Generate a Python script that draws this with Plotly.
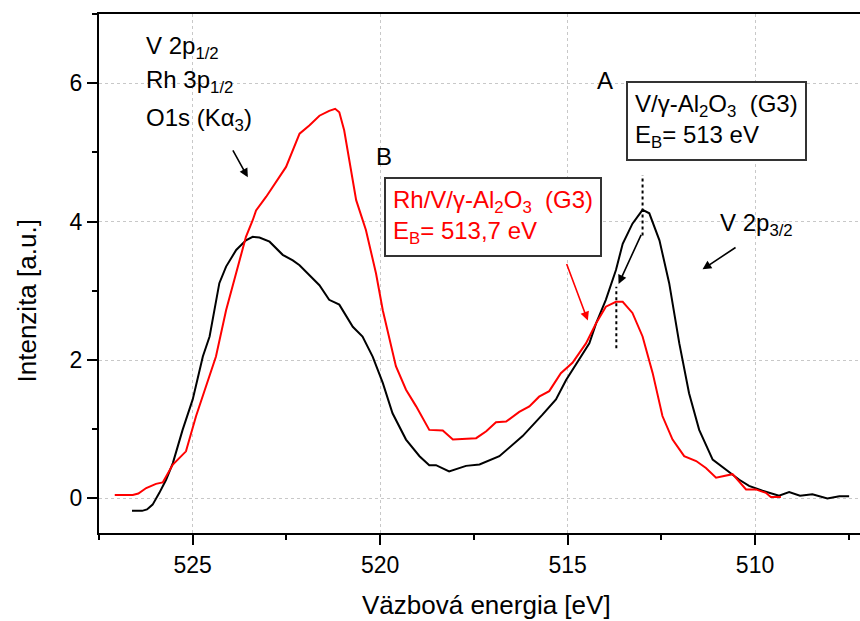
import plotly.graph_objects as go

# XPS spectra, V 2p / O 1s region (binding energy in eV, intensity in a.u.)
black_x = [526.62, 526.35, 526.22, 526.07, 525.89, 525.71, 525.53, 525.27, 525.00, 524.73,
           524.55, 524.38, 524.29, 524.11, 523.84, 523.58, 523.40, 523.22, 522.95, 522.60,
           522.33, 522.15, 521.89, 521.62, 521.36, 521.09, 520.73, 520.47, 520.20, 519.93,
           519.67, 519.31, 518.95, 518.69, 518.51, 518.16, 517.71, 517.35, 516.82, 516.20,
           515.67, 515.31, 515.04, 514.69, 514.42, 514.24, 513.98, 513.71, 513.53, 513.27,
           513.00, 512.82, 512.55, 512.29, 512.02, 511.76, 511.49, 511.13, 510.78, 510.42,
           510.16, 509.80, 509.36, 509.09, 508.80, 508.47, 508.07, 507.75, 507.49]
black_y = [-0.18, -0.18, -0.16, -0.09, 0.08, 0.27, 0.51, 0.99, 1.43, 2.05,
           2.34, 2.82, 3.11, 3.35, 3.59, 3.73, 3.78, 3.77, 3.71, 3.52,
           3.44, 3.37, 3.23, 3.08, 2.87, 2.80, 2.48, 2.34, 2.05, 1.67,
           1.23, 0.85, 0.61, 0.48, 0.48, 0.39, 0.47, 0.49, 0.61, 0.90,
           1.21, 1.43, 1.71, 2.00, 2.24, 2.53, 2.87, 3.30, 3.68, 3.97,
           4.17, 4.12, 3.73, 3.11, 2.24, 1.52, 0.99, 0.56, 0.42, 0.27,
           0.18, 0.11, 0.04, 0.09, 0.04, 0.06, 0.00, 0.03, 0.03]

red_x = [527.08, 526.60, 526.45, 526.24, 525.98, 525.80, 525.53, 525.18, 524.91, 524.64,
         524.38, 524.11, 523.84, 523.58, 523.40, 523.31, 523.04, 522.78, 522.51, 522.15,
         521.89, 521.62, 521.36, 521.20, 521.09, 520.96, 520.82, 520.64, 520.38, 520.11,
         519.93, 519.75, 519.58, 519.31, 519.04, 518.69, 518.33, 518.06, 517.71, 517.44,
         517.17, 516.91, 516.64, 516.29, 516.02, 515.76, 515.49, 515.18, 514.87, 514.51,
         514.24, 513.98, 513.71, 513.53, 513.27, 513.00, 512.73, 512.47, 512.20, 511.89,
         511.57, 511.31, 511.04, 510.78, 510.60, 510.24, 509.98, 509.71, 509.58, 509.31]
red_y = [0.05, 0.05, 0.07, 0.15, 0.21, 0.23, 0.49, 0.68, 1.19, 1.62,
         2.05, 2.72, 3.25, 3.78, 4.02, 4.16, 4.36, 4.57, 4.79, 5.27,
         5.39, 5.53, 5.60, 5.63, 5.58, 5.32, 4.88, 4.31, 3.88, 3.25,
         2.72, 2.29, 1.91, 1.57, 1.33, 0.99, 0.98, 0.85, 0.86, 0.87,
         0.97, 1.10, 1.11, 1.25, 1.33, 1.47, 1.55, 1.81, 1.96, 2.24,
         2.53, 2.77, 2.84, 2.84, 2.68, 2.34, 1.81, 1.19, 0.85, 0.61,
         0.54, 0.44, 0.30, 0.33, 0.35, 0.13, 0.13, 0.08, 0.02, 0.02]

# peak position markers (dotted verticals)
peak_black_x = [513.0, 513.0]
peak_black_y = [3.80, 4.67]
peak_red_x = [513.7, 513.7]
peak_red_y = [2.17, 3.06]

x_ticks = [525, 520, 515, 510]
y_ticks = [0, 2, 4, 6]

FONT = "Liberation Sans, Arial, sans-serif"

fig = go.Figure()
fig.add_trace(go.Scatter(x=black_x, y=black_y, mode="lines",
                         line=dict(color="black", width=2), showlegend=False))
fig.add_trace(go.Scatter(x=red_x, y=red_y, mode="lines",
                         line=dict(color="#ff0000", width=2), showlegend=False))
fig.add_trace(go.Scatter(x=peak_black_x, y=peak_black_y, mode="lines",
                         line=dict(color="black", width=2, dash="dot"), showlegend=False))
fig.add_trace(go.Scatter(x=peak_red_x, y=peak_red_y, mode="lines",
                         line=dict(color="black", width=2, dash="dot"), showlegend=False))

ann = []


def text(x, y, s, color="black", size=24, xanchor="left", yanchor="middle"):
    ann.append(dict(x=x, y=y, xref="x", yref="y", text=s, showarrow=False,
                    xanchor=xanchor, yanchor=yanchor, align="left",
                    font=dict(family=FONT, size=size, color=color)))


def arrow(x_head, y_head, x_tail, y_tail, color="black"):
    ann.append(dict(x=x_head, y=y_head, ax=x_tail, ay=y_tail, xref="x", yref="y",
                    axref="x", ayref="y", text="", showarrow=True,
                    arrowhead=2, arrowsize=1.1, arrowwidth=1.6, arrowcolor=color))


text(526.29, 6.52, "V 2p<sub>1/2</sub>")
text(526.29, 6.02, "Rh 3p<sub>1/2</sub>")
text(526.29, 5.48, "O1s (Kα<sub>3</sub>)")
text(514.01, 6.04, "A", xanchor="center")
text(519.89, 4.94, "B", xanchor="center")
text(510.98, 3.96, "V 2p<sub>3/2</sub>")

# labelled boxes
ann.append(dict(x=511.03, y=5.46, xref="x", yref="y",
                text="V/γ-Al<sub>2</sub>O<sub>3</sub>  (G3)<br>E<sub>B</sub>= 513 eV",
                showarrow=False, align="left", xanchor="center", yanchor="middle",
                bordercolor="#333333", borderwidth=2, borderpad=7, bgcolor="white",
                font=dict(family=FONT, size=24, color="black")))
ann.append(dict(x=516.98, y=4.07, xref="x", yref="y",
                text="Rh/V/γ-Al<sub>2</sub>O<sub>3</sub>  (G3)<br>E<sub>B</sub>= 513,7 eV",
                showarrow=False, align="left", xanchor="center", yanchor="middle",
                bordercolor="#333333", borderwidth=2, borderpad=7, bgcolor="white",
                font=dict(family=FONT, size=24, color="#ff0000")))

arrow(523.53, 4.64, 523.95, 5.05)
arrow(511.40, 3.31, 510.48, 3.64)
arrow(513.64, 3.10, 513.02, 3.83)
arrow(514.46, 2.57, 515.04, 3.41, color="#ff0000")

# axis titles
ann.append(dict(x=0.509, y=-0.139, xref="paper", yref="paper", showarrow=False,
                text="Väzbová energia [eV]", xanchor="center", yanchor="middle",
                font=dict(family=FONT, size=26, color="black")))
ann.append(dict(x=-0.094, y=0.447, xref="paper", yref="paper", showarrow=False,
                text="Intenzita [a.u.]", textangle=-90, xanchor="center", yanchor="middle",
                font=dict(family=FONT, size=26, color="black")))

axis_common = dict(showline=True, linewidth=2, linecolor="black",
                   ticks="outside", ticklen=10, tickwidth=2, tickcolor="black",
                   showgrid=True, gridcolor="#c8c8c8", gridwidth=1, griddash="dot",
                   zeroline=False, tickfont=dict(family=FONT, size=23, color="black"))

fig.update_layout(
    width=860, height=621,
    margin=dict(l=99, r=0, t=14, b=88),
    paper_bgcolor="white", plot_bgcolor="white",
    annotations=ann,
    xaxis=dict(range=[527.5, 507.2], tickvals=x_ticks, mirror=True,
               minor=dict(dtick=2.5, tick0=510, ticks="outside", ticklen=5,
                          tickwidth=2, tickcolor="black", showgrid=False),
               **axis_common),
    yaxis=dict(range=[-0.5, 7], tickvals=y_ticks, mirror=False,
               minor=dict(dtick=1, tick0=0, ticks="outside", ticklen=5,
                          tickwidth=2, tickcolor="black", showgrid=False),
               **axis_common),
)

fig.write_html("out.html")
